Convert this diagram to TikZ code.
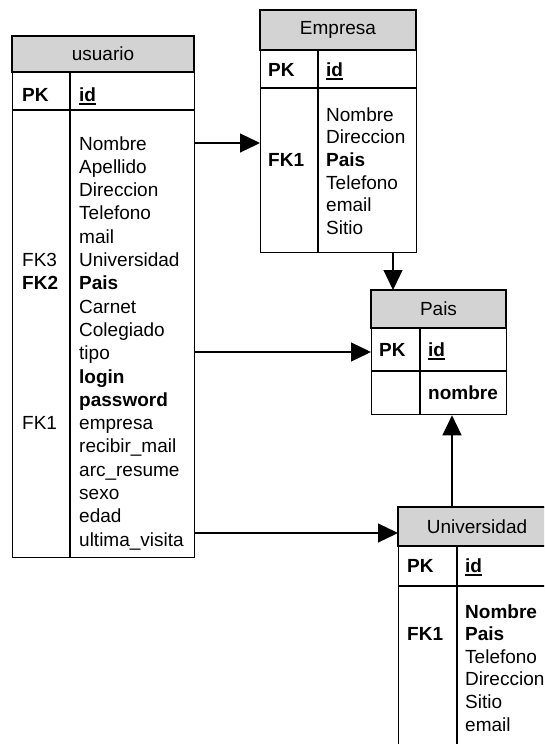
\documentclass[tikz,border=0pt]{standalone}
\usepackage{fontspec}
\setmainfont{Liberation Sans}
\usetikzlibrary{arrows.meta}
\definecolor{hdrgray}{RGB}{211,211,211}
\begin{document}
\begin{tikzpicture}[x=1pt,y=-1pt,
  tline/.style={draw=black, line width=1.3pt},
  hdr/.style={fill=hdrgray, draw=black, line width=1.3pt},
  tbox/.style={draw=black, line width=1.3pt, inner sep=0pt, anchor=north west},
  txt/.style={inner sep=0pt, anchor=base west, font=\fontsize{19}{23}\selectfont},
  htxt/.style={inner sep=0pt, anchor=center, font=\fontsize{19}{23}\selectfont},
  uline/.style={line width=1.4pt},
  arr/.style={line width=1.3pt, -{Triangle[length=20pt,width=19pt]}}
]
\useasboundingbox (0,0) rectangle (544,744);
\clip (0,0) rectangle (544,744);

% ---------- usuario ----------
\node[tbox, minimum width=182pt, minimum height=521pt] (usuario) at (12,36) {};
\draw[hdr] (12,36) rectangle (194,72);
\draw[tline] (12,110) -- (194,110);
\draw[tline] (70,72) -- (70,557);
\node[htxt] (usuarioT) at (103,54) {usuario};
\node[txt] (usuarioPK) at (22,101) {\bfseries PK};
\node[txt] (usuarioId) at (79,101) {\bfseries id};
\draw[uline] ([yshift=-3pt]usuarioId.base west) -- ([yshift=-3pt]usuarioId.base east);
\foreach \t [count=\i from 0] in {Nombre,Apellido,Direccion,Telefono,mail,Universidad,\textbf{Pais},Carnet,Colegiado,tipo,\textbf{login},\textbf{password},empresa,recibir\_mail,arc\_resume,sexo,edad,ultima\_visita}
  \node[txt] (u\i) at (79,{150+23.3*\i}) {\t};
\node[txt] (uFK3) at (22,{150+23.3*5}) {FK3};
\node[txt] (uFK2) at (22,{150+23.3*6}) {\bfseries FK2};
\node[txt] (uFK1) at (22,{150+23.3*12}) {FK1};

% ---------- Empresa ----------
\node[tbox, minimum width=156pt, minimum height=242pt] (empresa) at (260,10) {};
\draw[hdr] (260,10) rectangle (416,50);
\draw[tline] (260,88) -- (416,88);
\draw[tline] (318,50) -- (318,252);
\node[htxt] (empresaT) at (338,30) {Empresa};
\node[txt] (empresaPK) at (268,76) {\bfseries PK};
\node[txt] (empresaId) at (326,76) {\bfseries id};
\draw[uline] ([yshift=-3pt]empresaId.base west) -- ([yshift=-3pt]empresaId.base east);
\foreach \t [count=\i from 0] in {Nombre,Direccion,\textbf{Pais},Telefono,email,Sitio}
  \node[txt] (e\i) at (326,{121+22.7*\i}) {\t};
\node[txt] (eFK1) at (268,{121+22.7*2}) {\bfseries FK1};

% ---------- Pais ----------
\node[tbox, minimum width=135pt, minimum height=124pt] (pais) at (371,290) {};
\draw[hdr] (371,290) rectangle (506,328);
\draw[tline] (371,371) -- (506,371);
\draw[tline] (420,328) -- (420,414);
\node[htxt] (paisT) at (438.5,309) {Pais};
\node[txt] (paisPK) at (379,356) {\bfseries PK};
\node[txt] (paisId) at (428,356) {\bfseries id};
\draw[uline] ([yshift=-3pt]paisId.base west) -- ([yshift=-3pt]paisId.base east);
\node[txt] (paisNombre) at (428,399) {\bfseries nombre};

% ---------- Universidad ----------
\node[tbox, minimum width=158pt, minimum height=260pt] (univ) at (398,507) {};
\draw[hdr] (398,507) rectangle (556,546);
\draw[tline] (398,586) -- (556,586);
\draw[tline] (457,546) -- (457,767);
\node[htxt] (univT) at (477,527) {Universidad};
\node[txt] (univPK) at (407,572) {\bfseries PK};
\node[txt] (univId) at (465,572) {\bfseries id};
\draw[uline] ([yshift=-3pt]univId.base west) -- ([yshift=-3pt]univId.base east);
\foreach \t [count=\i from 0] in {\textbf{Nombre},\textbf{Pais},Telefono,Direccion,Sitio,email}
  \node[txt] (v\i) at (465,{618+22.6*\i}) {\t};
\node[txt] (vFK1) at (407,{618+22.6}) {\bfseries FK1};

% ---------- connectors ----------
\draw[arr] (usuario.east |- 0,143) -- (empresa.west |- 0,143);
\draw[arr] (empresa.south -| 393,0) -- (pais.north -| 393,0);
\draw[arr] (usuario.east |- 0,352) -- (pais.west |- 0,352);
\draw[arr] (usuario.east |- 0,533) -- (univ.west |- 0,533);
\draw[arr] (univ.north -| 452,0) -- (pais.south -| 452,0);
\end{tikzpicture}
\end{document}
